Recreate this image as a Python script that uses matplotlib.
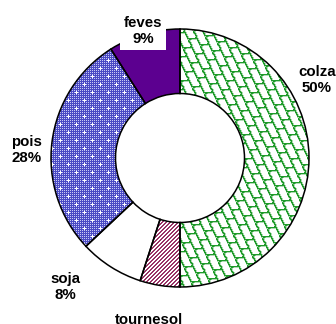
import numpy as np
import matplotlib
matplotlib.use('Agg')
import matplotlib.pyplot as plt
from matplotlib.colors import to_rgb

# Répartition des surfaces (%)
cultures = ['colza', 'tournesol', 'soja', 'pois', 'feves']
parts = [50, 5, 8, 28, 9]
motifs = ['ecailles', 'rayures', 'blanc', 'points', 'plein']

# Taille de l'image en pixels et géométrie de l'anneau
W, H = 336, 324
cx, cy, R = 180, 158, 129

plt.rcParams['font.family'] = ['Liberation Sans', 'DejaVu Sans']

fig = plt.figure(figsize=(W / 100, H / 100), dpi=100)
ax = fig.add_axes([0, 0, 1, 1])

lim_x = (-cx / R, (W - cx) / R)
lim_y = (-(H - cy) / R, cy / R)

# Grille de pixels pour les textures
X, Y = np.meshgrid(np.arange(W) + 0.5, np.arange(H) + 0.5)


def ecailles(X, Y):
    # réseau de cellules ondulées (contours verts sur fond blanc)
    a = np.array([12.0, 6.0])
    b = np.array([-5.0, 9.0])
    M = np.linalg.inv(np.array([a, b]).T)
    s = M[0, 0] * X + M[0, 1] * Y
    t = M[1, 0] * X + M[1, 1] * Y
    s2 = s + 0.2 * np.sin(2 * np.pi * t)
    t2 = t + 0.2 * np.sin(2 * np.pi * s)
    ident = np.floor(s2) * 1000 + np.floor(t2)
    bord = np.zeros(X.shape)
    bord[:, :-1] += ident[:, :-1] != ident[:, 1:]
    bord[:-1, :] += ident[:-1, :] != ident[1:, :]
    bord = np.clip(bord, 0, 1)
    # léger adoucissement des traits
    doux = bord.copy()
    doux[1:, :] += 0.35 * bord[:-1, :]
    doux[:, 1:] += 0.35 * bord[:, :-1]
    a_ = np.clip(doux, 0, 1)[..., None]
    vert = np.array(to_rgb('#1f9a2a'))
    return (1 - a_) * 1.0 + a_ * vert


def rayures(X, Y):
    a = (((X + Y).astype(int)) % 4 < 2)[..., None]
    return np.where(a, np.array(to_rgb('#993366')), 1.0) * np.ones((1, 1, 3))


def points(X, Y):
    base = np.ones(X.shape + (3,)) * np.array(to_rgb('#4a4ac4'))
    xi, yi = X.astype(int), Y.astype(int)
    damier = ((xi % 2 == 0) & (yi % 2 == 0))
    base[damier] = to_rgb('#c8c8f4')
    # petites croix blanches en quinconce
    ligne = yi // 8
    dx = (xi + (ligne % 2) * 8) % 16
    dy = yi % 8
    croix = ((dx == 4) & (np.abs(dy - 4) <= 1)) | ((dy == 4) & (np.abs(dx - 4) <= 1))
    base[croix] = 1.0
    return base


textures = {
    'ecailles': ecailles(X, Y),
    'rayures': rayures(X, Y),
    'points': points(X, Y),
}
couleurs = {'ecailles': 'white', 'rayures': '#993366', 'blanc': 'white',
            'points': '#4a4ac4', 'plein': '#5c0090'}

wedges, _ = ax.pie(parts, startangle=90, counterclock=False, radius=1,
                   colors=[couleurs[m] for m in motifs],
                   wedgeprops=dict(width=0.5, linewidth=0))

for w, m in zip(wedges, motifs):
    if m in textures:
        im = ax.imshow(textures[m], extent=(lim_x[0], lim_x[1], lim_y[0], lim_y[1]),
                       origin='upper', interpolation='nearest', zorder=2)
        im.set_clip_path(w)

# contours noirs par-dessus les textures
contours, _ = ax.pie(parts, startangle=90, counterclock=False, radius=1,
                     wedgeprops=dict(width=0.5, facecolor='none',
                                     edgecolor='black', linewidth=1.1))
for c in contours:
    c.set_zorder(3)

# étiquettes (position en pixels)
pos_etiquettes = [(317, 80), (149, 328), (65, 287), (27, 150), (143, 31)]
for nom, p, (px, py) in zip(cultures, parts, pos_etiquettes):
    t = ax.text((px - cx) / R, (cy - py) / R, f'{nom}\n{p}%', ha='center', va='center',
                fontsize=10.8, fontweight='bold', linespacing=1.2, zorder=4)
    if nom == 'feves':
        t.set_bbox(dict(facecolor='white', edgecolor='none', pad=2.5))

ax.set_aspect('auto')
ax.set_xlim(*lim_x)
ax.set_ylim(*lim_y)
ax.axis('off')

fig.savefig('out.png', dpi=100)
